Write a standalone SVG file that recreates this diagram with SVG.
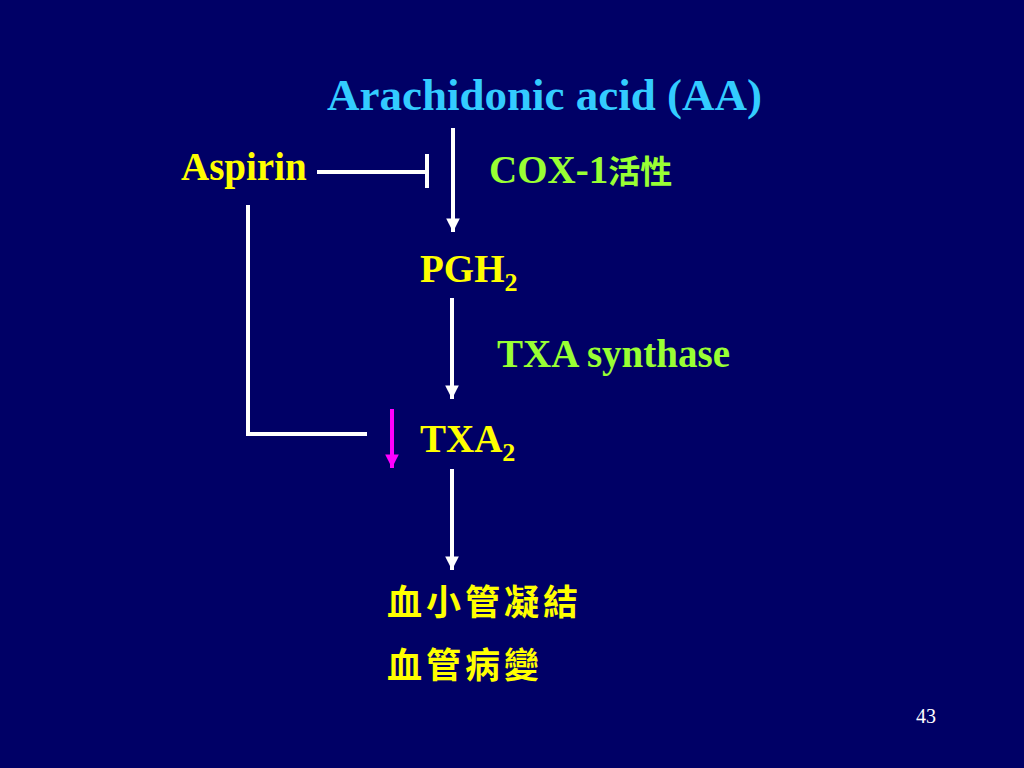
<svg xmlns="http://www.w3.org/2000/svg" width="1024" height="768" viewBox="0 0 1024 768">
<defs>
<marker id="ah" viewBox="0 0 10 10" refX="10" refY="5" markerWidth="3.4" markerHeight="3.4" markerUnits="strokeWidth" orient="auto"><path d="M0,0 L10,5 L0,10 z" fill="#ffffff"/></marker>
<marker id="ahm" viewBox="0 0 10 10" refX="10" refY="5" markerWidth="3.4" markerHeight="3.4" markerUnits="strokeWidth" orient="auto"><path d="M0,0 L10,5 L0,10 z" fill="#ff00ff"/></marker>
</defs>
<style>
.t{font-family:"Liberation Serif","Times New Roman","Noto Sans CJK TC",serif;font-weight:bold;}
.c{font-family:"Noto Sans CJK TC","Noto Sans CJK SC",sans-serif;font-weight:bold;}
.y{fill:#ffff00;}
.g{fill:#99ff33;}
.w{stroke:#ffffff;stroke-width:4;fill:none;}
</style>
<rect width="1024" height="768" fill="#000066"/>
<g id="connectors">
<line class="w" x1="453" y1="128" x2="453" y2="232" marker-end="url(#ah)"/>
<line class="w" x1="317" y1="172" x2="425" y2="172"/>
<line class="w" x1="427" y1="154" x2="427" y2="188"/>
<line class="w" x1="452" y1="298" x2="452" y2="399" marker-end="url(#ah)"/>
<polyline class="w" points="248,205 248,434 367,434"/>
<line x1="392" y1="409" x2="392" y2="468" stroke="#ff00ff" stroke-width="4" marker-end="url(#ahm)"/>
<line class="w" x1="452" y1="469" x2="452" y2="570" marker-end="url(#ah)"/>
</g>
<g id="aa"><text class="t" x="327" y="110" font-size="45" fill="#33ccff">Arachidonic acid (AA)</text></g>
<g id="aspirin"><text class="t y" x="181" y="180" font-size="39">Aspirin</text></g>
<g id="cox1"><text class="t g" x="489" y="183" font-size="39">COX-1<tspan class="c" font-size="32">活性</tspan></text></g>
<g id="pgh2"><text class="t y" x="420" y="282" font-size="39">PGH<tspan font-size="26" dy="9">2</tspan></text></g>
<g id="txasynthase"><text class="t g" x="497" y="367" font-size="39">TXA synthase</text></g>
<g id="txa2"><text class="t y" x="420" y="452" font-size="39">TXA<tspan font-size="26" dy="9">2</tspan></text></g>
<g id="outcome">
<text class="c y" x="387" y="615" font-size="35" letter-spacing="4">血小管凝結</text>
<text class="c y" x="387" y="678" font-size="35" letter-spacing="4">血管病變</text>
</g>
<g id="page"><text x="916" y="723" font-family="Liberation Serif,serif" font-size="20" fill="#ffffff">43</text></g>
</svg>
